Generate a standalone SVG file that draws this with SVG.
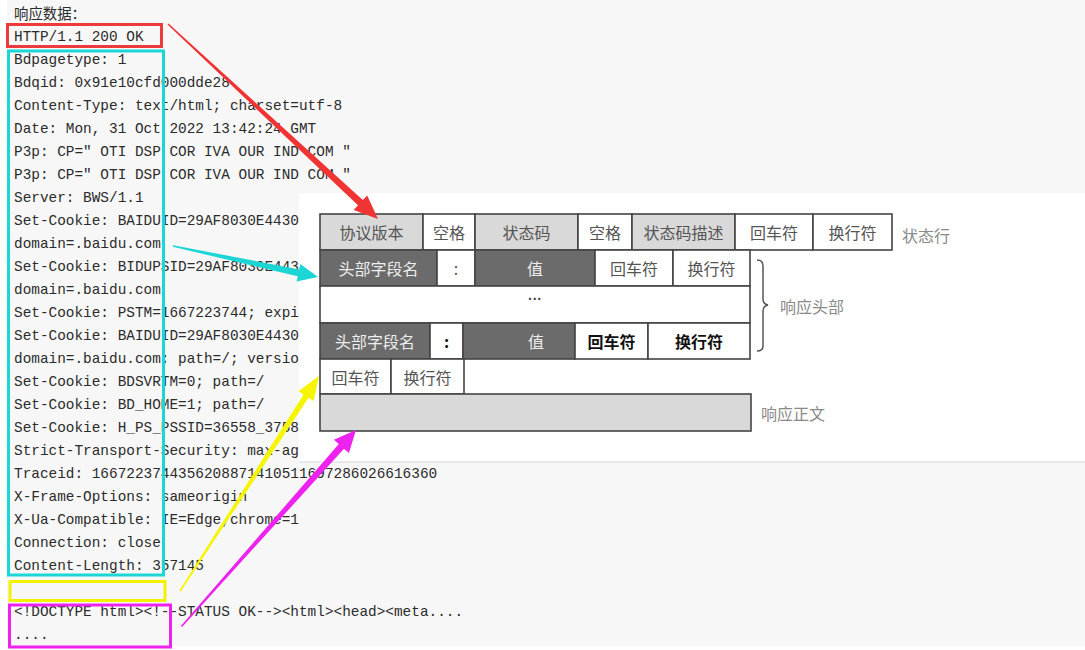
<svg xmlns="http://www.w3.org/2000/svg" width="1085" height="650" viewBox="0 0 1085 650">
<style>
.mono{font-family:"Liberation Mono","DejaVu Sans Mono",monospace;font-size:14.4px;fill:#2b2b2b}
.cjk{font-family:"Noto Sans CJK SC","Noto Sans",sans-serif}
.cell{stroke:#444;stroke-width:1.6}
.lg{fill:#d9d9d9}
.dk{fill:#6b6b6b}
.wh{fill:#fff}
.ct{font-family:"Noto Sans CJK SC","Noto Sans",sans-serif;font-size:16px;text-anchor:middle;dominant-baseline:central;fill:#555}
.ctw{fill:#eeeeee}
.ctb{fill:#111;font-weight:bold}
.lbl{font-family:"Noto Sans CJK SC","Noto Sans",sans-serif;font-size:16px;fill:#8a8a8a;dominant-baseline:central}
.box{fill:none;stroke-width:3}
</style>
<rect x="0" y="0" width="1085" height="650" fill="#ffffff"/>
<rect x="7" y="0" width="1078" height="646" fill="#f7f7f7"/>

<g id="log-text">
<text class="cjk" x="14" y="19" font-size="14.4" fill="#2b2b2b">响应数据：</text>
<text class="mono" x="14" y="41">HTTP/1.1 200 OK</text>
<text class="mono" x="14" y="64">Bdpagetype: 1</text>
<text class="mono" x="14" y="87">Bdqid: 0x91e10cfd000dde28</text>
<text class="mono" x="14" y="110">Content-Type: text/html; charset=utf-8</text>
<text class="mono" x="14" y="133">Date: Mon, 31 Oct 2022 13:42:24 GMT</text>
<text class="mono" x="14" y="156">P3p: CP=" OTI DSP COR IVA OUR IND COM "</text>
<text class="mono" x="14" y="179">P3p: CP=" OTI DSP COR IVA OUR IND COM "</text>
<text class="mono" x="14" y="202">Server: BWS/1.1</text>
<text class="mono" x="14" y="225">Set-Cookie: BAIDUID=29AF8030E4430</text>
<text class="mono" x="14" y="248">domain=.baidu.com</text>
<text class="mono" x="14" y="271">Set-Cookie: BIDUPSID=29AF8030E443</text>
<text class="mono" x="14" y="294">domain=.baidu.com</text>
<text class="mono" x="14" y="317">Set-Cookie: PSTM=1667223744; expi</text>
<text class="mono" x="14" y="340">Set-Cookie: BAIDUID=29AF8030E4430</text>
<text class="mono" x="14" y="363">domain=.baidu.com; path=/; versio</text>
<text class="mono" x="14" y="386">Set-Cookie: BDSVRTM=0; path=/</text>
<text class="mono" x="14" y="409">Set-Cookie: BD_HOME=1; path=/</text>
<text class="mono" x="14" y="432">Set-Cookie: H_PS_PSSID=36558_3758</text>
<text class="mono" x="14" y="455">Strict-Transport-Security: max-ag</text>
<text class="mono" x="14" y="478">Traceid: 1667223744356208871410511697286026616360</text>
<text class="mono" x="14" y="501">X-Frame-Options: sameorigin</text>
<text class="mono" x="14" y="524">X-Ua-Compatible: IE=Edge,chrome=1</text>
<text class="mono" x="14" y="547">Connection: close</text>
<text class="mono" x="14" y="570">Content-Length: 357145</text>
<text class="mono" x="14" y="616">&lt;!DOCTYPE html&gt;&lt;!--STATUS OK--&gt;&lt;html&gt;&lt;head&gt;&lt;meta....</text>
<text class="mono" x="14" y="639">....</text>
</g>

<g id="status-box"><rect class="box" x="7.5" y="24.5" width="154" height="22" stroke="#ee3a3a"/></g>
<g id="header-box"><rect class="box" x="8.5" y="51" width="155" height="524" stroke="#1cd6d6"/></g>
<g id="blank-box"><rect class="box" x="10" y="581.5" width="155" height="19" stroke="#f2f200"/></g>
<g id="body-box"><rect class="box" x="9.5" y="605" width="161" height="42" stroke="#ee22ee"/></g>

<g id="structure-image">
<rect x="299" y="193" width="786" height="269" fill="#ffffff"/>
<line x1="299" y1="462" x2="1085" y2="462" stroke="#d8d8d8" stroke-width="1"/>

<g id="row-status">
<g id="c-version"><rect class="cell lg" x="320" y="214" width="103" height="36"/><text class="ct" x="371.5" y="232">协议版本</text></g>
<g id="c-sp1"><rect class="cell wh" x="423" y="214" width="52" height="36"/><text class="ct" x="449" y="232">空格</text></g>
<g id="c-code"><rect class="cell lg" x="475" y="214" width="103" height="36"/><text class="ct" x="526.5" y="232">状态码</text></g>
<g id="c-sp2"><rect class="cell wh" x="578" y="214" width="54" height="36"/><text class="ct" x="605" y="232">空格</text></g>
<g id="c-desc"><rect class="cell lg" x="632" y="214" width="103" height="36"/><text class="ct" x="683.5" y="232">状态码描述</text></g>
<g id="c-cr1"><rect class="cell wh" x="735" y="214" width="78" height="36"/><text class="ct" x="774" y="232">回车符</text></g>
<g id="c-lf1"><rect class="cell wh" x="813" y="214" width="79" height="36"/><text class="ct" x="852.5" y="232">换行符</text></g>
</g>
<g id="lbl-status"><text class="lbl" x="902" y="235">状态行</text></g>

<g id="row-header1">
<g id="h1-name"><rect class="cell dk" x="320" y="250" width="117" height="36"/><text class="ct ctw" x="378.5" y="268">头部字段名</text></g>
<g id="h1-colon"><rect class="cell wh" x="437" y="250" width="38" height="36"/><text class="ct" x="456" y="268">:</text></g>
<g id="h1-value"><rect class="cell dk" x="475" y="250" width="120" height="36"/><text class="ct ctw" x="535" y="268">值</text></g>
<g id="h1-cr"><rect class="cell wh" x="595" y="250" width="78" height="36"/><text class="ct" x="634" y="268">回车符</text></g>
<g id="h1-lf"><rect class="cell wh" x="673" y="250" width="77" height="36"/><text class="ct" x="711.5" y="268">换行符</text></g>
</g>

<g id="row-more"><rect class="cell wh" x="320" y="286" width="430" height="37"/><text x="535" y="304" text-anchor="middle" font-family="Liberation Sans, sans-serif" font-size="14" font-weight="bold" fill="#444">···</text></g>

<g id="row-header2">
<g id="h2-name"><rect class="cell dk" x="320" y="323" width="110" height="36"/><text class="ct ctw" x="375" y="341">头部字段名</text></g>
<g id="h2-colon"><rect class="cell wh" x="430" y="323" width="33" height="36"/><text class="ct ctb" x="446.5" y="341">:</text></g>
<g id="h2-value"><rect class="cell dk" x="463" y="323" width="112" height="36"/><text class="ct ctw" x="536" y="341">值</text></g>
<g id="h2-cr"><rect class="cell wh" x="575" y="323" width="73" height="36"/><text class="ct ctb" x="611.5" y="341">回车符</text></g>
<g id="h2-lf"><rect class="cell wh" x="648" y="323" width="102" height="36"/><text class="ct ctb" x="699" y="341">换行符</text></g>
</g>

<g id="brace"><path d="M757,260 Q763,260 763,266 L763,299 Q763,304 768,305 Q763,306 763,311 L763,346 Q763,351 757,351" fill="none" stroke="#555" stroke-width="1.5"/></g>
<g id="lbl-header"><text class="lbl" x="780" y="306">响应头部</text></g>

<g id="row-blank">
<g id="b-cr"><rect class="cell wh" x="320" y="359" width="71" height="35"/><text class="ct" x="355.5" y="376.5">回车符</text></g>
<g id="b-lf"><rect class="cell wh" x="391" y="359" width="73" height="35"/><text class="ct" x="427.5" y="376.5">换行符</text></g>
</g>

<g id="row-body"><rect class="cell lg" x="320" y="394" width="431" height="37"/></g>
<g id="lbl-body"><text class="lbl" x="761" y="413">响应正文</text></g>
</g>

<g id="connectors">
<polygon fill="#f03434" points="167.5,24.6 358.0,205.3 353.6,210.0 378,219 367.2,195.4 362.8,200.1 168.5,23.4"/>
<polygon fill="#1cd6d6" points="172.8,246.8 297.7,276.2 296.5,281.6 318,277 300.3,264.0 299.1,269.4 173.2,245.2"/>
<polygon fill="#f5f500" points="180.7,591.4 308.5,397.8 313.6,401.1 319,376 298.4,391.3 303.5,394.6 179.3,590.6"/>
<polygon fill="#ee22ee" points="182.1,627.0 344.0,448.7 348.9,453.0 356,430 333.9,439.8 338.8,444.1 180.9,626.0"/>
</g>
</svg>
